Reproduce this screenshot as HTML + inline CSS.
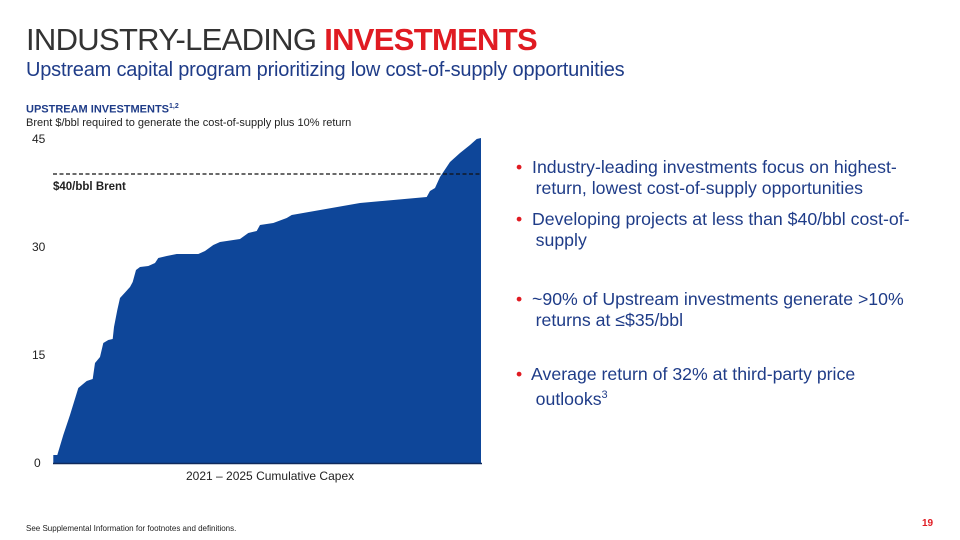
<!DOCTYPE html>
<html><head><meta charset="utf-8"><style>
body{margin:0;width:960px;height:540px;background:#fff;font-family:"Liberation Sans",sans-serif;position:relative;overflow:hidden;color:#222}
.a{position:absolute;white-space:nowrap}
</style></head><body>
<div class="a" style="left:26px;top:22px;font-size:31px;letter-spacing:-0.7px;color:#333">INDUSTRY-LEADING <b style="color:#e01b22">INVESTMENTS</b></div>
<div class="a" style="left:26px;top:59px;font-size:20px;letter-spacing:-0.2px;color:#1f3c88">Upstream capital program prioritizing low cost-of-supply opportunities</div>
<div class="a" style="left:26px;top:103px;font-size:11px;font-weight:bold;color:#1f3c88">UPSTREAM INVESTMENTS<sup style="font-size:7px">1,2</sup></div>
<div class="a" style="left:26px;top:117px;font-size:11px;color:#222">Brent $/bbl required to generate the cost-of-supply plus 10% return</div>
<div class="a" style="left:32px;top:132px;font-size:12px">45</div>
<div class="a" style="left:32px;top:240px;font-size:12px">30</div>
<div class="a" style="left:32px;top:348px;font-size:12px">15</div>
<div class="a" style="left:34px;top:456px;font-size:12px">0</div>
<svg class="a" style="left:0;top:0" width="960" height="540">
<path fill="#0e4699" d="M53.3,463 L53.3,455 L57.3,455 L63.3,435 L70,415 L78.3,388 L86.7,381 L92.7,379 L95,363 L100,357 L103.3,343 L108.3,340 L112.7,339 L114,327 L117.3,310 L120,298 L130,287 L132.7,282 L136,270 L140,267 L148.3,266 L155,263 L158.3,258 L166.7,256 L176.7,254 L198.3,254 L205,251 L213.3,245 L220,242 L240,239 L248.3,233 L256.7,231 L260,225 L273.3,223 L286.7,218 L291.7,215 L360,203 L426.7,197 L430,191 L435,188 L440,177 L450,162 L460,153 L470,145 L476.7,139 L481,138 L481,463 Z"/>
<line x1="53" y1="463.5" x2="482" y2="463.5" stroke="#102a5c" stroke-width="1.5"/>
<line x1="53" y1="174" x2="482" y2="174" stroke="#111" stroke-width="1.3" stroke-dasharray="4,2.5"/>
</svg>
<div class="a" style="left:53px;top:181px;font-size:11.5px;font-weight:bold">$40/bbl Brent</div>
<div class="a" style="left:186px;top:469px;font-size:12px">2021 – 2025 Cumulative Capex</div>
<div class="a" style="left:516px;top:157px;font-size:17.7px;line-height:21px;color:#1f3c88"><span style="color:#e01b22">•</span>&nbsp; Industry-leading investments focus on highest-<br>&nbsp;&nbsp;&nbsp; return, lowest cost-of-supply opportunities</div>
<div class="a" style="left:516px;top:209px;font-size:17.7px;line-height:21px;color:#1f3c88"><span style="color:#e01b22">•</span>&nbsp; Developing projects at less than $40/bbl cost-of-<br>&nbsp;&nbsp;&nbsp; supply</div>
<div class="a" style="left:516px;top:289px;font-size:17.7px;line-height:21px;color:#1f3c88"><span style="color:#e01b22">•</span>&nbsp; ~90% of Upstream investments generate &gt;10%<br>&nbsp;&nbsp;&nbsp; returns at ≤$35/bbl</div>
<div class="a" style="left:516px;top:364px;font-size:17.7px;line-height:21px;color:#1f3c88"><span style="color:#e01b22">•</span>&nbsp; Average return of 32% at third-party price<br>&nbsp;&nbsp;&nbsp; outlooks<sup style="font-size:11px">3</sup></div>
<div class="a" style="left:26px;top:524px;font-size:8px">See Supplemental Information for footnotes and definitions.</div>
<div class="a" style="left:922px;top:518px;font-size:10px;font-weight:bold;color:#e01b22">19</div>
</body></html>
